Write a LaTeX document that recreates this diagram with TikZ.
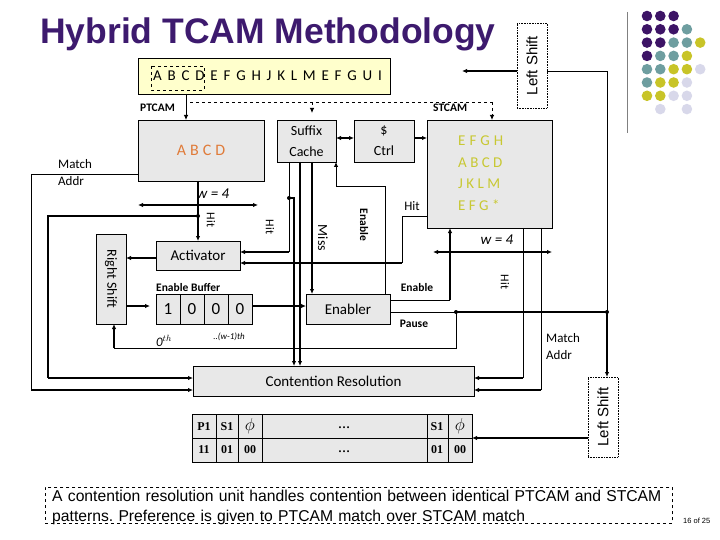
\documentclass[tikz,border=0pt]{standalone}
\usepackage{fontspec}
\setmainfont{Carlito}
\newfontfamily\arl{Liberation Sans}
\newfontfamily\tms{Liberation Serif}
\usetikzlibrary{arrows.meta}
\definecolor{boxg}{HTML}{E8E8E8}
\definecolor{ttl}{HTML}{3D1A6E}
\definecolor{org}{HTML}{E07B39}
\definecolor{olv}{HTML}{C8C832}
\definecolor{dP}{HTML}{3D1466}
\definecolor{dT}{HTML}{6E9EA0}
\definecolor{dY}{HTML}{C8C428}
\definecolor{dL}{HTML}{D8D8EA}
\definecolor{ylw}{HTML}{FFFFCC}
\frenchspacing
\tikzset{
 box/.style={draw, fill=boxg, line width=0.8pt, anchor=north west, inner sep=0pt, outer sep=0pt},
 dbox/.style={draw, densely dotted, line width=0.6pt, anchor=north west, inner sep=0pt, outer sep=0pt},
 arr/.style={-{Latex[length=5pt,width=4.5pt]}},
 darr/.style={{Latex[length=5pt,width=4.5pt]}-{Latex[length=5pt,width=4.5pt]}},
 thk/.style={line width=1.8pt},
 thn/.style={line width=0.8pt},
 lbl/.style={font=\fontsize{12}{13}\selectfont, inner sep=0pt},
 blbl/.style={font=\fontsize{11.5}{12}\bfseries\selectfont, inner sep=0pt},
 dot/.style={circle, fill, inner sep=0pt, minimum size=4pt},
}
\begin{document}
\begin{tikzpicture}[x=1pt,y=-1pt]
\useasboundingbox (0,0) rectangle (720,540);
% title
\node[anchor=west, text=ttl, font=\arl\bfseries\fontsize{35.5}{37}\selectfont, inner sep=0pt] (title) at (40,34) {Hybrid TCAM Methodology};
% decoration
\draw[gray, line width=0.8pt] (627,12) -- (627,133);
\foreach \c/\i/\j in {dP/0/0,dP/1/0,dP/2/0,
 dP/0/1,dP/1/1,dP/2/1,dT/3/1,
 dP/0/2,dP/1/2,dT/2/2,dT/3/2,dY/4/2,
 dP/0/3,dT/1/3,dT/2/3,dY/3/3,
 dT/0/4,dT/1/4,dY/2/4,dY/3/4,dL/4/4,
 dT/0/5,dY/1/5,dY/2/5,dL/3/5,
 dY/0/6,dY/1/6,dL/2/6,dL/3/6,
 dL/1/7,dL/3/7}
 \fill[\c] (647+13.3*\i,16+13.3*\j) circle (5.3);
% top string
\node[box, fill=ylw, minimum width=252pt, minimum height=36pt] (str) at (138,58) {};
\node[anchor=west, inner sep=0pt, font=\fontsize{15}{16}\selectfont] (strt) at (153,76) {\spaceskip=5.8pt\relax A B C D E F G H J K L M E F G U I};
\draw[dashed, line width=0.7pt] (151,66) rectangle (204,90);
\coordinate (sd) at (186,94);
% left shift top
\node[dbox, minimum width=30pt, minimum height=85pt] (ls1) at (517,23) {};
\node[rotate=90, font=\arl\fontsize{15}{16}\selectfont, inner sep=0pt] at (ls1.center) {Left Shift};
\coordinate (lsa) at (462,71);
\draw[thk, arr] (ls1.west |- lsa) -- (lsa);
% labels
\node[blbl, anchor=west] at (140,108) {PTCAM};
\node[blbl, anchor=west] at (433,108) {STCAM};
% boxes
\node[box, minimum width=126pt, minimum height=61pt, text=org, font=\fontsize{16}{17}\selectfont] (pt) at (138,120) {\spaceskip=4pt\relax A B C D};
\node[box, minimum width=59pt, minimum height=42pt, align=center, font=\fontsize{14}{21}\selectfont] (sc) at (277,120) {Suffix\\Cache};
\node[box, minimum width=60pt, minimum height=42pt, align=center, font=\fontsize{14}{21}\selectfont] (cr) at (354,120) {\$\\Ctrl};
\node[box, minimum width=125pt, minimum height=108pt] (st) at (427,120) {};
\node[text=olv, align=left, font=\fontsize{15}{21.5}\selectfont, anchor=north west, inner sep=0pt] at (458,136) {\spaceskip=4pt\relax E F G H\\A B C D\\J K L M\\E F G *};
\node[box, minimum width=84pt, minimum height=29pt, font=\fontsize{15}{16}\selectfont] (act) at (156,241) {Activator};
\node[box, minimum width=30pt, minimum height=90pt] (rs) at (96,234) {};
\node[rotate=-90, font=\fontsize{14}{15}\selectfont, inner sep=0pt] at (rs.center) {Right Shift};
\node[blbl, anchor=west, font=\fontsize{11.5}{12}\bfseries\selectfont] at (156,288) {Enable Buffer};
\foreach \k/\v in {0/1,1/0,2/0,3/0}
 \node[box, minimum width=24pt, minimum height=30pt, font=\fontsize{17}{18}\selectfont] (b\k) at (156+24*\k,294) {\v};
\node[font=\itshape\fontsize{13}{14}\selectfont, inner sep=0pt] at (164,341) {0$^{th}$};
\node[font=\itshape\fontsize{9}{10}\selectfont, inner sep=0pt] at (229,337) {..(w-1)th};
\node[box, minimum width=84pt, minimum height=30pt, font=\fontsize{15}{16}\selectfont] (en) at (306,294) {Enabler};
\node[box, minimum width=281pt, minimum height=30pt, font=\fontsize{15}{16}\selectfont] (cres) at (193,366) {Contention Resolution};
\node[dbox, minimum width=30pt, minimum height=80pt] (ls2) at (588,377) {};
\node[rotate=90, font=\arl\fontsize{15}{16}\selectfont, inner sep=0pt] at (ls2.center) {Left Shift};
% table
\node[box, minimum width=280pt, minimum height=48pt] (tab) at (192,414) {};
\draw[thn] (192,438) -- (472,438);
\foreach \xx in {216,238,262,427,448} \draw[thn] (\xx,414) -- (\xx,462);
\tikzset{tc/.style={font=\tms\bfseries\fontsize{12}{13}\selectfont, inner sep=0pt}}
\node[tc] at (204,427) {P1}; \node[tc] at (227,427) {S1};
\node[tc, font=\tms\fontsize{18}{18}\selectfont] at (250,426) {$\phi$};
\node[tc] at (344,428) {…}; \node[tc] at (437,427) {S1};
\node[tc, font=\tms\fontsize{18}{18}\selectfont] at (460,426) {$\phi$};
\node[tc] at (204,450) {11}; \node[tc] at (227,450) {01}; \node[tc] at (250,450) {00};
\node[tc] at (344,452) {…}; \node[tc] at (437,450) {01}; \node[tc] at (460,450) {00};
% caption
\node[draw, dashed, line width=0.7pt, anchor=north west, minimum width=627pt, minimum height=36pt, inner sep=0pt] (cap) at (45,487) {};
\node[anchor=north west, align=left, font=\arl\fontsize{15.7}{20}\selectfont, inner sep=0pt, text width=620pt] at (52,490) {A contention resolution unit handles contention between identical PTCAM and STCAM patterns. Preference is given to PTCAM match over STCAM match};
\node[anchor=west, font=\arl\fontsize{7.5}{8}\selectfont, inner sep=0pt] at (683,521) {16 of 25};
% dashed distribution
\draw[dashed, thn] (sd) -- (186,102) -- (492,102);
\draw[thn, arr] (sd) -- (pt.north -| 186,0);
\draw[dashed, thn, arr] (312,102) -- (312,113);
\draw[dashed, thn, arr] (492,102) -- (st.north -| 492,0);
% cache ctrl
\draw[thk, darr] (sc.east |- 0,138) -- (cr.west |- 0,138);
\draw[thk, arr] (cr.east |- 0,138) -- (st.west |- 0,138);
% ptcam outputs
\node[lbl, anchor=west, align=left, font=\fontsize{13}{17}\selectfont] at (58,173) {Match\\Addr};
\draw[thn] (pt.west |- 0,174) -- (31,174) -- (31,390);
\draw[thk, arr] (31,390) -- (cres.west |- 0,390);
\draw[thk, arr] (pt.south -| 198,0) -- (act.north -| 198,0);
\node[font=\itshape\fontsize{15}{16}\selectfont, inner sep=0pt] at (213,194) {w = 4};
\draw[thk, darr] (138,205) -- (258,205);
\node[dot] at (198,216) {};
\draw[thk] (198,216) -- (48,216) -- (48,378);
\draw[thk, arr] (48,378) -- (cres.west |- 0,378);
\node[lbl, rotate=-90] at (211,220) {Hit};
\node[lbl, rotate=-90] at (270,227) {Hit};
% activator / right shift / buffer
\draw[thk, arr] (act.west |- 0,258) -- (rs.east |- 0,258);
\draw[thk, arr] (rs.east |- 0,306) -- (150,306);
\draw[thk, arr] (b3.east |- 0,306) -- (en.west |- 0,306);
% suffix cache outputs
\draw[thn] (sc.south -| 289,0) -- (289,252);
\draw[thk, arr] (289,252) -- (act.east |- 0,252);
\node[dot] at (289,198) {};
\draw[thk] (289,198) -- (294,198) -- (294,358);
\draw[thk, arr] (294,358) -- (cres.north -| 294,0);
\draw[thk, arr] (sc.south -| 300,0) -- (cres.north -| 300,0);
\draw[thk, arr] (sc.south -| 312,0) -- (en.north -| 312,0);
\node[lbl, rotate=-90, font=\fontsize{14}{15}\selectfont] at (323,238) {Miss};
\draw[thn] (en.north -| 385,0) -- (385,186) -- (336,186);
\draw[thn, arr] (336,186) -- (sc.south -| 336,0);
\node[blbl, rotate=-90] at (364,225) {Enable};
% STCAM hit
\node[lbl, font=\fontsize{13}{14}\selectfont] at (412,206) {Hit};
\draw[thn] (st.west |- 0,216) -- (402,216) -- (402,263);
\draw[thk, arr] (402,263) -- (act.east |- 0,263);
% enabler outputs
\node[blbl] at (417,288) {Enable};
\draw[thn] (en.east |- 0,300) -- (450,300);
\draw[thk, arr] (450,300) -- (st.south -| 450,0);
\node[blbl] at (414,324) {Pause};
\draw[thn] (en.east |- 0,312) -- (456,312);
\draw[thk] (456,312) -- (607,312);
\node[dot] at (456,312) {};
\node[dot] at (607,312) {};
\draw[thn] (456,312) -- (456,348) -- (114,348);
\draw[thk, arr] (114,348) -- (rs.south -| 114,0);
% stcam right
\node[font=\itshape\fontsize{15}{16}\selectfont, inner sep=0pt] at (497,240) {w = 4};
\draw[thk, darr] (433,252) -- (552,252);
\node[lbl, rotate=-90] at (505,282) {Hit};
\node[lbl, anchor=west, align=left, font=\fontsize{13}{17}\selectfont] at (546,347) {Match\\Addr};
\draw[thn] (st.south -| 523,0) -- (523,378);
\draw[thk, arr] (523,378) -- (cres.east |- 0,378);
\draw[thn] (st.south -| 541,0) -- (541,390);
\draw[thk, arr] (541,390) -- (cres.east |- 0,390);
% left shift links
\draw[thn] (ls1.east |- 0,71) -- (607,71) -- (607,312);
\draw[thk, arr] (607,312) -- (ls2.north -| 607,0);
\draw[thk, arr] (ls2.west |- 0,438) -- (tab.east |- 0,438);
\end{tikzpicture}
\end{document}
